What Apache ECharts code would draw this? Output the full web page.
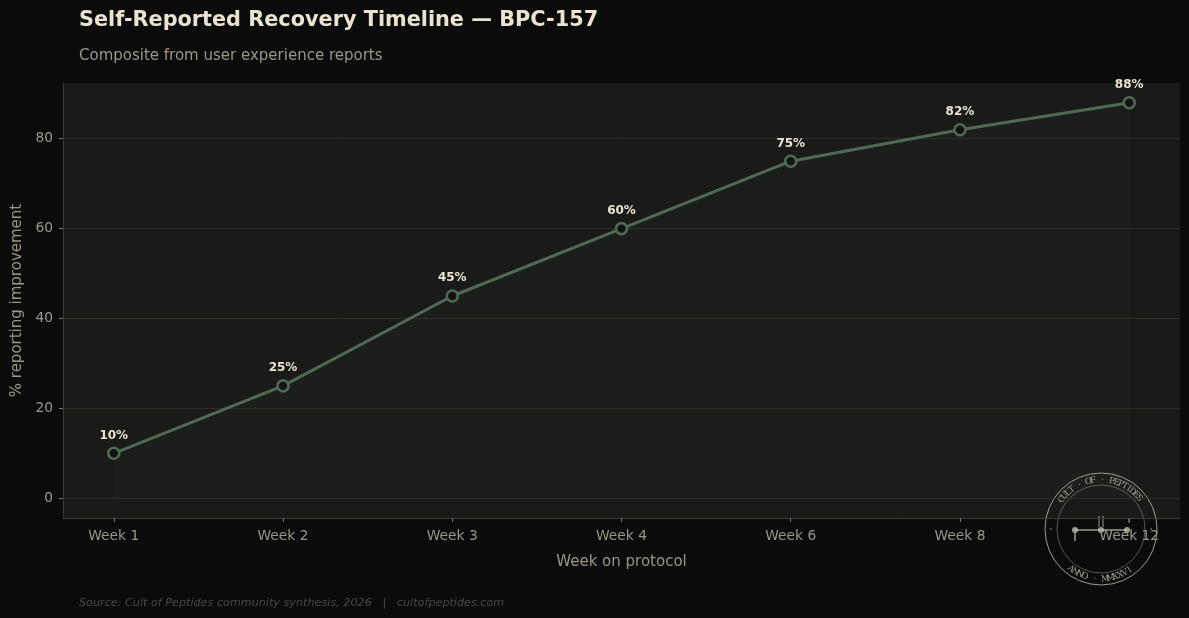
<!DOCTYPE html>
<html>
<head>
<meta charset="utf-8">
<script src="https://cdn.jsdelivr.net/npm/echarts@6/dist/echarts.min.js"></script>
<style>
  html, body { margin: 0; padding: 0; background: #0b0b0b; }
  #chart { width: 1189px; height: 618px; }
</style>
</head>
<body>
<div id="chart"></div>
<script>
// data
var weeks = ['Week 1', 'Week 2', 'Week 3', 'Week 4', 'Week 6', 'Week 8', 'Week 12'];
var improved = [10, 25, 45, 60, 75, 82, 88];
var yTicks = [0, 20, 40, 60, 80];
var xTicks = [0, 1, 2, 3, 4, 5, 6];

var font = 'DejaVu Sans, sans-serif';
var muted = '#9c9686';
var green = '#4c6b52';
var spine = '#3a3a2e';

var points = weeks.map(function (w, i) { return [i, improved[i]]; });

// seal (watermark) bits
var cx = 1101, cy = 529;
var seal = 'rgba(205,200,186,0.75)';
function arcText(str, r, a0, a1, top) {
  var out = [];
  var n = str.length;
  for (var i = 0; i < n; i++) {
    var a = (a0 + (a1 - a0) * i / (n - 1)) * Math.PI / 180;
    out.push({
      type: 'text',
      x: cx + r * Math.cos(a),
      y: cy - r * Math.sin(a),
      rotation: top ? a - Math.PI / 2 : a + Math.PI / 2,
      silent: true,
      style: {
        text: str[i], fill: seal, fontSize: 8.5, fontFamily: 'DejaVu Serif, serif',
        align: 'center', verticalAlign: 'middle'
      }
    });
  }
  return out;
}

var sealEls = [
  { type: 'circle', shape: { cx: cx, cy: cy, r: 56 }, style: { fill: 'none', stroke: seal, lineWidth: 1 } },
  { type: 'circle', shape: { cx: cx, cy: cy, r: 44 }, style: { fill: 'none', stroke: 'rgba(200,196,182,0.4)', lineWidth: 1 } },
  { type: 'line', shape: { x1: cx - 26, y1: cy + 1, x2: cx + 26, y2: cy + 1 }, style: { stroke: seal, lineWidth: 1.5 } },
  { type: 'circle', shape: { cx: cx - 26, cy: cy + 1, r: 3 }, style: { fill: seal } },
  { type: 'circle', shape: { cx: cx, cy: cy + 1, r: 3 }, style: { fill: seal } },
  { type: 'circle', shape: { cx: cx + 26, cy: cy + 1, r: 3 }, style: { fill: seal } },
  { type: 'line', shape: { x1: cx - 26, y1: cy + 3, x2: cx - 26, y2: cy + 12 }, style: { stroke: seal, lineWidth: 1.5 } },
  { type: 'line', shape: { x1: cx - 2, y1: cy - 13, x2: cx - 2, y2: cy - 2 }, style: { stroke: seal, lineWidth: 1 } },
  { type: 'line', shape: { x1: cx + 2, y1: cy - 13, x2: cx + 2, y2: cy - 2 }, style: { stroke: seal, lineWidth: 1 } },
  { type: 'line', shape: { x1: cx + 28, y1: cy - 10, x2: cx + 28, y2: cy - 6 }, style: { stroke: seal, lineWidth: 1 } },
  { type: 'circle', shape: { cx: cx - 50, cy: cy, r: 0.8 }, style: { fill: seal } },
  { type: 'circle', shape: { cx: cx + 50, cy: cy, r: 0.8 }, style: { fill: seal } }
].concat(arcText('CULT · OF · PEPTIDES', 49, 143, 39, true))
 .concat(arcText('ANNO · MMXXVI', 50, 233, 305, false));

var chart = echarts.init(document.getElementById('chart'));
chart.setOption({
  backgroundColor: '#0b0b0b',
  animation: false,
  title: [
    {
      text: 'Self-Reported Recovery Timeline — BPC-157',
      left: 74, top: 5,
      textStyle: { color: '#ebe3cf', fontSize: 20.8, fontWeight: 'bold', fontFamily: font }
    },
    {
      text: 'Composite from user experience reports',
      left: 74, top: 44,
      textStyle: { color: muted, fontSize: 15, fontWeight: 'normal', fontFamily: font }
    },
    {
      text: 'Source: Cult of Peptides community synthesis, 2026   |   cultofpeptides.com',
      left: 74, top: 593,
      textStyle: { color: '#4a4843', fontSize: 11.2, fontStyle: 'italic', fontWeight: 'normal', fontFamily: font }
    }
  ],
  grid: {
    left: 63, right: 9, top: 83, bottom: 100,
    show: true, backgroundColor: '#1a1a18', borderWidth: 0
  },
  xAxis: {
    type: 'value',
    min: -0.3, max: 6.3,
    name: 'Week on protocol',
    nameLocation: 'middle',
    nameGap: 37,
    nameTextStyle: { color: muted, fontSize: 15, fontFamily: font },
    axisLine: { show: true, onZero: false, lineStyle: { color: spine, width: 1 } },
    axisTick: { show: true, customValues: xTicks, length: 4, lineStyle: { color: '#7c786c' } },
    axisLabel: {
      customValues: xTicks,
      color: muted, fontSize: 13.8, fontFamily: font, margin: 11,
      formatter: function (v) { return weeks[Math.round(v)]; }
    },
    splitLine: { show: false }
  },
  yAxis: {
    type: 'value',
    min: -4.4, max: 92.4,
    name: '% reporting improvement',
    nameLocation: 'middle',
    nameGap: 38,
    nameTextStyle: { color: muted, fontSize: 15, fontFamily: font },
    axisLine: { show: true, onZero: false, lineStyle: { color: spine, width: 1 } },
    axisTick: { show: true, customValues: yTicks, length: 4, lineStyle: { color: '#7c786c' } },
    axisLabel: { customValues: yTicks, color: muted, fontSize: 13.8, fontFamily: font, margin: 10 },
    splitLine: { show: false }
  },
  series: [{
    type: 'line',
    data: points,
    lineStyle: { color: green, width: 3 },
    symbol: 'circle',
    symbolSize: 11,
    itemStyle: { color: '#131412', borderColor: green, borderWidth: 2.6 },
    areaStyle: { origin: 0, color: 'rgba(90,130,100,0.05)' },
    label: {
      show: true, position: 'top', distance: 5,
      color: '#ebe3cf', fontSize: 12, fontWeight: 'bold', fontFamily: font,
      formatter: function (p) { return p.value[1] + '%'; }
    },
    markLine: {
      silent: true,
      symbol: 'none',
      label: { show: false },
      lineStyle: { color: '#2d2d24', type: 'solid', width: 1 },
      data: yTicks.map(function (t) { return { yAxis: t }; }),
      z: 1
    },
    z: 3
  }],
  graphic: sealEls
});
</script>
</body>
</html>
